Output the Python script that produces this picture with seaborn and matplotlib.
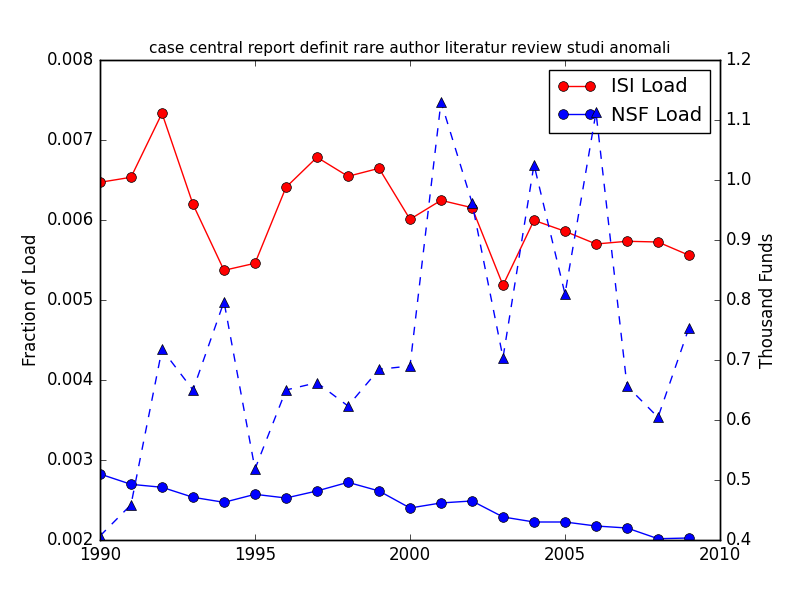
import matplotlib
matplotlib.use("Agg")
import matplotlib.pyplot as plt
import seaborn as sns
import pandas as pd

years = list(range(1990, 2010))
isi_load = [0.006471, 0.006534, 0.007334, 0.006196, 0.005371, 0.005459, 0.006409,
            0.006784, 0.006546, 0.006646, 0.006009, 0.006246, 0.006154, 0.005184,
            0.005996, 0.005859, 0.005700, 0.005734, 0.005725, 0.005559]
nsf_load = [0.002825, 0.002696, 0.002659, 0.002534, 0.002471, 0.002571, 0.002525,
            0.002613, 0.002721, 0.002613, 0.002400, 0.002463, 0.002488, 0.002288,
            0.002225, 0.002225, 0.002175, 0.002150, 0.002016, 0.002025]
funds = [0.4067, 0.4588, 0.7178, 0.6500, 0.7972, 0.5183, 0.6500, 0.6622, 0.6233,
         0.6845, 0.6900, 1.1305, 0.9622, 0.7038, 1.0255, 0.8100, 1.1128, 0.6567,
         0.6045, 0.7538]
title = "case central report definit rare author literatur review studi anomali"

plt.style.use("classic")
df = pd.DataFrame({"year": years, "isi": isi_load, "nsf": nsf_load, "funds": funds})

fig = plt.figure(figsize=(8, 6), dpi=100)
ax1 = fig.add_axes([0.125, 0.1, 0.775, 0.8])
sns.lineplot(data=df, x="year", y="isi", ax=ax1, color="red", marker="o",
             markersize=7, markeredgecolor="black", markeredgewidth=0.5,
             linewidth=1, label="ISI Load")
sns.lineplot(data=df, x="year", y="nsf", ax=ax1, color="blue", marker="o",
             markersize=7, markeredgecolor="black", markeredgewidth=0.5,
             linewidth=1, label="NSF Load")
ax1.set_xlim(1990, 2010)
ax1.set_ylim(0.002, 0.008)
ax1.set_xticks([1990, 1995, 2000, 2005, 2010])
ax1.set_xticklabels(["1990", "1995", "2000", "2005", "2010"])
ax1.set_yticks([0.002, 0.003, 0.004, 0.005, 0.006, 0.007, 0.008])
ax1.set_yticklabels(["0.002", "0.003", "0.004", "0.005", "0.006", "0.007", "0.008"])
ax1.set_xlabel("")
ax1.set_ylabel("Fraction of Load", fontsize=12)
ax1.set_title(title, fontsize=11)
ax1.legend(loc="upper right", fontsize=14, numpoints=2)

ax2 = ax1.twinx()
sns.lineplot(data=df, x="year", y="funds", ax=ax2, color="blue", marker="^",
             markersize=7, markeredgecolor="black", markeredgewidth=0.5,
             linewidth=1, linestyle="--", legend=False)
ax2.set_ylim(0.4, 1.2)
ax2.set_yticks([0.4, 0.5, 0.6, 0.7, 0.8, 0.9, 1.0, 1.1, 1.2])
ax2.set_yticklabels(["0.4", "0.5", "0.6", "0.7", "0.8", "0.9", "1.0", "1.1", "1.2"])
ax2.set_ylabel("Thousand Funds", fontsize=12)
ax2.set_xlim(1990, 2010)

fig.savefig("out.png", dpi=100)
